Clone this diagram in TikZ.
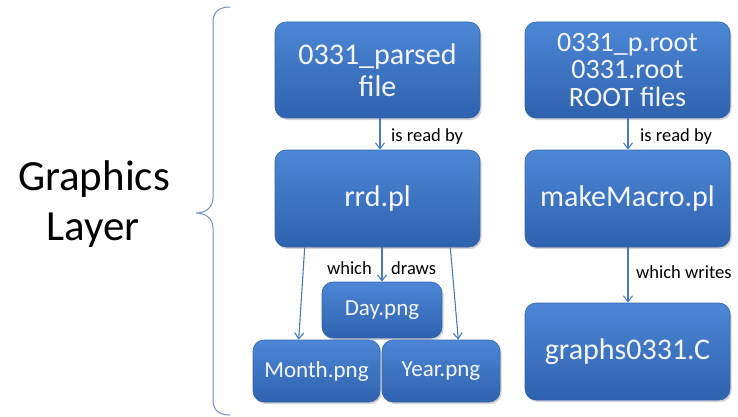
\documentclass[tikz,border=0pt]{standalone}
\usepackage{fontspec}
\setmainfont{Carlito}
\usetikzlibrary{arrows.meta,shadows,calc}
\definecolor{boxtop}{HTML}{4C87D5}
\definecolor{boxbot}{HTML}{2F62AE}
\definecolor{boxline}{HTML}{3565AD}
\definecolor{arrowblue}{HTML}{4A7BC0}
\definecolor{bracecol}{HTML}{6F8FBF}
\tikzset{
  procbox/.style={rounded corners=11pt, top color=boxtop, bottom color=boxbot,
    draw=boxline, line width=0.6pt, text=white!96!blue, align=center,
    inner sep=2pt, drop shadow={opacity=0.35, shadow xshift=1.5pt, shadow yshift=-2pt}},
  bigtext/.style={font=\fontsize{30}{32}\selectfont},
  midtext/.style={font=\fontsize{23}{26}\selectfont},
  flow/.style={draw=arrowblue, line width=1.1pt, -{Straight Barb[length=6pt,width=9pt]}},
  edgelabel/.style={font=\fontsize{18.5}{20}\selectfont, text=black, inner sep=0pt},
  titletext/.style={font=\fontsize{43}{45}\selectfont, anchor=base},
}
\begin{document}
\begin{tikzpicture}[x=1pt, y=-1pt]
\useasboundingbox (0,0) rectangle (738,417);

% left title
\node[titletext] (t1) at (94,190) {Graphics};
\node[titletext] (t2) at (93,240) {Layer};

% brace
\draw[bracecol, line width=1pt] (230,7) .. controls (219,7) and (213,12) .. (213,22)
  -- (213,198) .. controls (213,207) and (206,213) .. (196,213)
  .. controls (206,213) and (213,219) .. (213,228)
  -- (213,400) .. controls (213,410) and (219,415) .. (230,415);

% left column
\node[procbox, minimum width=205pt, minimum height=96pt, font=\fontsize{30}{32}\selectfont] (parsed) at (377.5,70) {0331\_parsed\\file};
\node[procbox, bigtext, minimum width=205pt, minimum height=97pt] (rrd) at (377.5,198.5) {rrd.pl};
\node[procbox, midtext, minimum width=120pt, minimum height=56pt] (day) at (382,310) {Day.png};
\node[procbox, midtext, minimum width=127pt, minimum height=62pt] (month) at (316.5,371) {Month.png};
\node[procbox, midtext, minimum width=118pt, minimum height=62pt] (year) at (441,371) {Year.png};

% right column
\node[procbox, minimum width=205pt, minimum height=96pt, font=\fontsize{28}{27.5}\selectfont] (root) at (627.5,70) {0331\_p.root\\0331.root\\ROOT files};
\node[procbox, bigtext, minimum width=205pt, minimum height=97pt] (macro) at (627.5,198.5) {makeMacro.pl};
\node[procbox, bigtext, minimum width=205pt, minimum height=97pt] (graphs) at (627.5,351.5) {graphs0331.C};

% connectors
\draw[flow] (parsed.south -| 380,0) -- (rrd.north -| 380,0);
\node[edgelabel, anchor=west] (l1) at (391,137) {is read by};
\draw[flow] (rrd.south -| day.north) -- (day.north);
\node[edgelabel, anchor=east] (l2) at (372,268) {which};
\node[edgelabel, anchor=west] (l3) at (391,268) {draws};
\draw[flow] ($(rrd.south west)+(30,0)$) -- ($(month.north west)+(46,0)$);
\draw[flow] ($(rrd.south east)+(-30,0)$) -- ($(year.north east)+(-42,0)$);

\draw[flow] (root.south -| 628,0) -- (macro.north -| 628,0);
\node[edgelabel, anchor=west] (l4) at (640,137) {is read by};
\draw[flow] (macro.south -| 628,0) -- (graphs.north -| 628,0);
\node[edgelabel, anchor=west] (l5) at (636,272) {which writes};
\end{tikzpicture}
\end{document}
